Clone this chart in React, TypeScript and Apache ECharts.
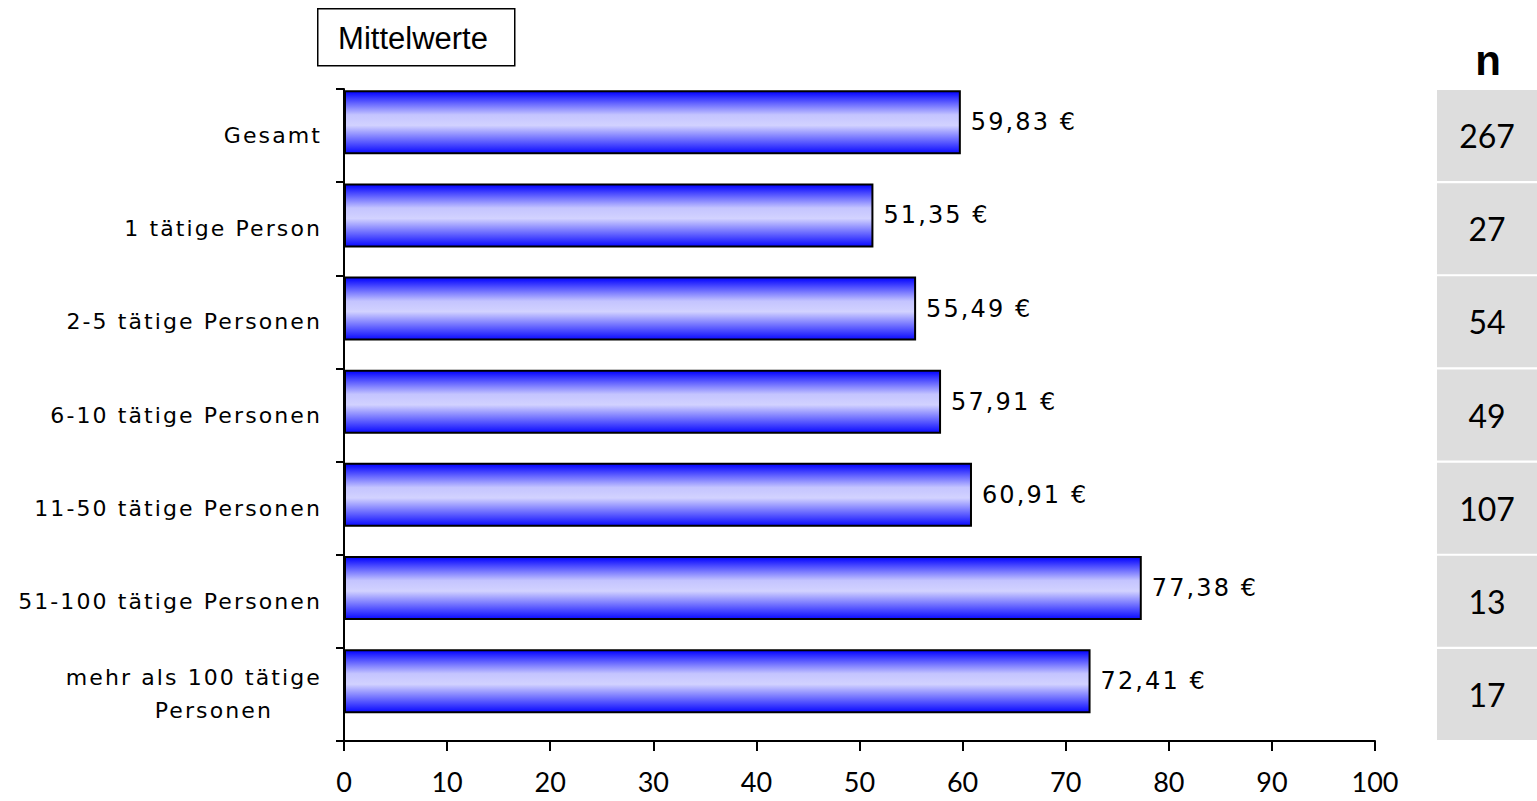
import React, { useEffect, useRef } from "react";
import * as echarts from "echarts";

const categories = [
  "Gesamt",
  "1 tätige Person",
  "2-5 tätige Personen",
  "6-10 tätige Personen",
  "11-50 tätige Personen",
  "51-100 tätige Personen",
  "mehr als 100 tätige\nPersonen",
];
const meanValues = [59.83, 51.35, 55.49, 57.91, 60.91, 77.38, 72.41];
const nValues = [267, 27, 54, 49, 107, 13, 17];
const xMin = 0;
const xMax = 100;
const xInterval = 10;
const boxTitle = "Mittelwerte";
const nTitle = "n";

const FONT = "'DejaVu Sans', sans-serif";

const css = `
#chart-root svg text[style*="DejaVu"], #chart-root svg text[font-family*="DejaVu"] { letter-spacing: 2.1px; }
`;

export default function App() {
  const ref = useRef<HTMLDivElement>(null);
  useEffect(() => {
    if (!ref.current) return;
    const chart = echarts.init(ref.current, null, { renderer: "svg" });
    const barGradient = new echarts.graphic.LinearGradient(0, 0, 0, 1, [
      { offset: 0, color: "#0000ff" },
      { offset: 0.38, color: "#c4c4ff" },
      { offset: 0.55, color: "#d2d2ff" },
      { offset: 1, color: "#0a0aff" },
    ]);
    chart.setOption({
      animation: false,
      backgroundColor: "#ffffff",
      grid: [
        { left: 344, right: 162, top: 89, bottom: 60 },
        { left: 1437, right: 0, top: 89, bottom: 60 },
      ],
      xAxis: [
        {
          type: "value",
          gridIndex: 0,
          min: xMin,
          max: xMax,
          interval: xInterval,
          splitLine: { show: false },
          axisLine: { show: true, lineStyle: { color: "#000", width: 2 } },
          axisTick: { show: true, length: 10, lineStyle: { color: "#000", width: 2 } },
          axisLabel: {
            color: "#000",
            fontFamily: "Lato, sans-serif",
            fontSize: 27,
            margin: 27,
          },
        },
        { type: "value", gridIndex: 1, min: 0, max: 1, show: false },
      ],
      yAxis: [
        {
          type: "category",
          gridIndex: 0,
          inverse: true,
          data: categories,
          axisLine: { show: true, lineStyle: { color: "#000", width: 2 } },
          axisTick: { show: true, length: 8, lineStyle: { color: "#000", width: 2 } },
          axisLabel: {
            color: "#000",
            fontFamily: FONT,
            fontSize: 22,
            margin: 22,
            lineHeight: 33,
            formatter: (v: string) => {
              if (v.indexOf("\n") < 0) return v;
              const parts = v.split("\n");
              return parts
                .map((p, i) => (i === 0 ? `{a|${p}}` : `{b|${p}}`))
                .join("\n");
            },
            rich: {
              a: { fontFamily: FONT, fontSize: 22, color: "#000", lineHeight: 33 },
              b: {
                fontFamily: FONT,
                fontSize: 22,
                color: "#000",
                lineHeight: 33,
                align: "center",
              },
            },
          },
        },
        {
          type: "category",
          gridIndex: 1,
          inverse: true,
          data: categories,
          show: false,
        },
      ],
      series: [
        {
          type: "bar",
          xAxisIndex: 0,
          yAxisIndex: 0,
          data: meanValues,
          barWidth: 64,
          barGap: "40%",
          itemStyle: { color: barGradient, borderColor: "#000", borderWidth: 2 },
          label: {
            show: true,
            position: "right",
            distance: 10,
            color: "#000",
            fontFamily: FONT,
            fontSize: 24,
            formatter: (p: any) =>
              p.value.toFixed(2).replace(".", ",") + " €",
          },
        },
        {
          type: "bar",
          xAxisIndex: 0,
          yAxisIndex: 0,
          data: categories.map(() => "-"),
          barWidth: 1,
          silent: true,
        },
        {
          type: "bar",
          xAxisIndex: 1,
          yAxisIndex: 1,
          data: nValues.map(() => 1),
          barWidth: 91,
          itemStyle: { color: "#dddddd" },
          label: {
            show: true,
            position: "inside",
            color: "#000",
            fontFamily: "Lato, sans-serif",
            fontSize: 32,
            formatter: (p: any) => String(nValues[p.dataIndex]),
          },
        },
      ],
      graphic: [
        {
          type: "rect",
          left: 317,
          top: 8,
          shape: { width: 197, height: 57 },
          style: { fill: "#fff", stroke: "#000", lineWidth: 1.5 },
        },
        {
          type: "text",
          x: 413,
          y: 38,
          style: {
            text: boxTitle,
            fill: "#000",
            font: "31px 'Liberation Sans', sans-serif",
            textAlign: "center",
            textVerticalAlign: "middle",
          },
        },
        {
          type: "text",
          x: 1488,
          y: 60,
          style: {
            text: nTitle,
            fill: "#000",
            font: "bold 42px 'Liberation Sans', sans-serif",
            textAlign: "center",
            textVerticalAlign: "middle",
          },
        },
      ],
    });
    return () => chart.dispose();
  }, []);
  return (
    <>
      <style>{css}</style>
      <div
        id="chart-root"
        ref={ref}
        style={{ position: "fixed", left: 0, top: 0, width: 1537, height: 801 }}
      />
    </>
  );
}
